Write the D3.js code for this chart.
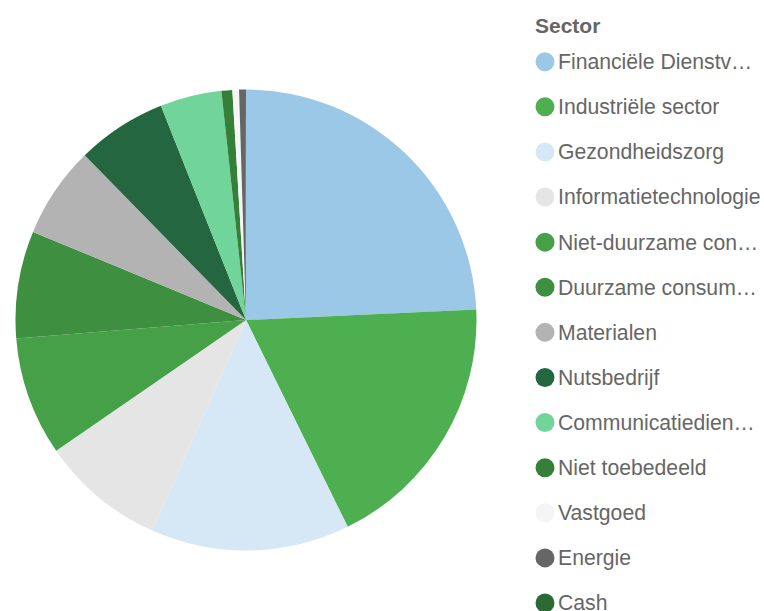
<!DOCTYPE html>
<html>
<head>
<meta charset="utf-8">
<script src="https://cdn.jsdelivr.net/npm/d3@7/dist/d3.min.js"></script>
<style>
  html, body { margin: 0; padding: 0; background: #fff; }
  svg { display: block; }
  text { font-family: "Liberation Sans", Arial, Helvetica, sans-serif; }
</style>
</head>
<body>
<svg id="chart" width="764" height="611"></svg>
<script>
const categories = [
  "Financiële Dienstverlening",
  "Industriële sector",
  "Gezondheidszorg",
  "Informatietechnologie",
  "Niet-duurzame consumptiegoederen",
  "Duurzame consumptiegoederen",
  "Materialen",
  "Nutsbedrijf",
  "Communicatiediensten",
  "Niet toebedeeld",
  "Vastgoed",
  "Energie",
  "Cash"
];
const values = [24.2, 18.4, 13.9, 8.7, 8.3, 7.5, 6.4, 6.3, 4.3, 0.76, 0.46, 0.42, 0.06];
const colors = ["#9bc8e6", "#4daf50", "#d6e8f6", "#e5e5e5", "#46a048", "#3f8f40",
                "#b3b3b3", "#236640", "#70d49b", "#367f38", "#f5f5f5", "#666666", "#2b6b33"];
const legendTitle = "Sector";

const svg = d3.select("#chart");
const cx = 246, cy = 320, radius = 230.5;

const data = categories.map((c, i) => ({ name: c, value: values[i], color: colors[i] }));

const pie = d3.pie().value(d => d.value).sort(null);
const arc = d3.arc().innerRadius(0).outerRadius(radius);

svg.append("g")
  .attr("transform", `translate(${cx},${cy})`)
  .selectAll("path")
  .data(pie(data))
  .join("path")
  .attr("d", arc)
  .attr("fill", d => d.data.color);

// Legend
const lg = svg.append("g");
lg.append("text")
  .attr("x", 535).attr("y", 33)
  .attr("font-size", 21).attr("font-weight", "bold")
  .attr("fill", "#666666")
  .text(legendTitle);

const rowY = d3.scaleLinear().domain([0, categories.length - 1]).range([61.7, 603]);
const maxW = 205;

const rows = lg.selectAll("g.row").data(data).join("g")
  .attr("class", "row")
  .attr("transform", (d, i) => `translate(0,${rowY(i)})`);

rows.append("circle")
  .attr("cx", 545).attr("cy", 0).attr("r", 9.5)
  .attr("fill", d => d.color);

rows.append("text")
  .attr("x", 558).attr("y", 0).attr("dy", "0.35em")
  .attr("font-size", 21.2)
  .attr("fill", "#666666")
  .text(d => d.name)
  .each(function(d) {
    const el = d3.select(this);
    let s = d.name;
    if (this.getComputedTextLength() > maxW) {
      while (s.length > 1) {
        s = s.slice(0, -1);
        el.text(s.trimEnd() + "…");
        if (this.getComputedTextLength() <= maxW) break;
      }
    }
  });
</script>
</body>
</html>
